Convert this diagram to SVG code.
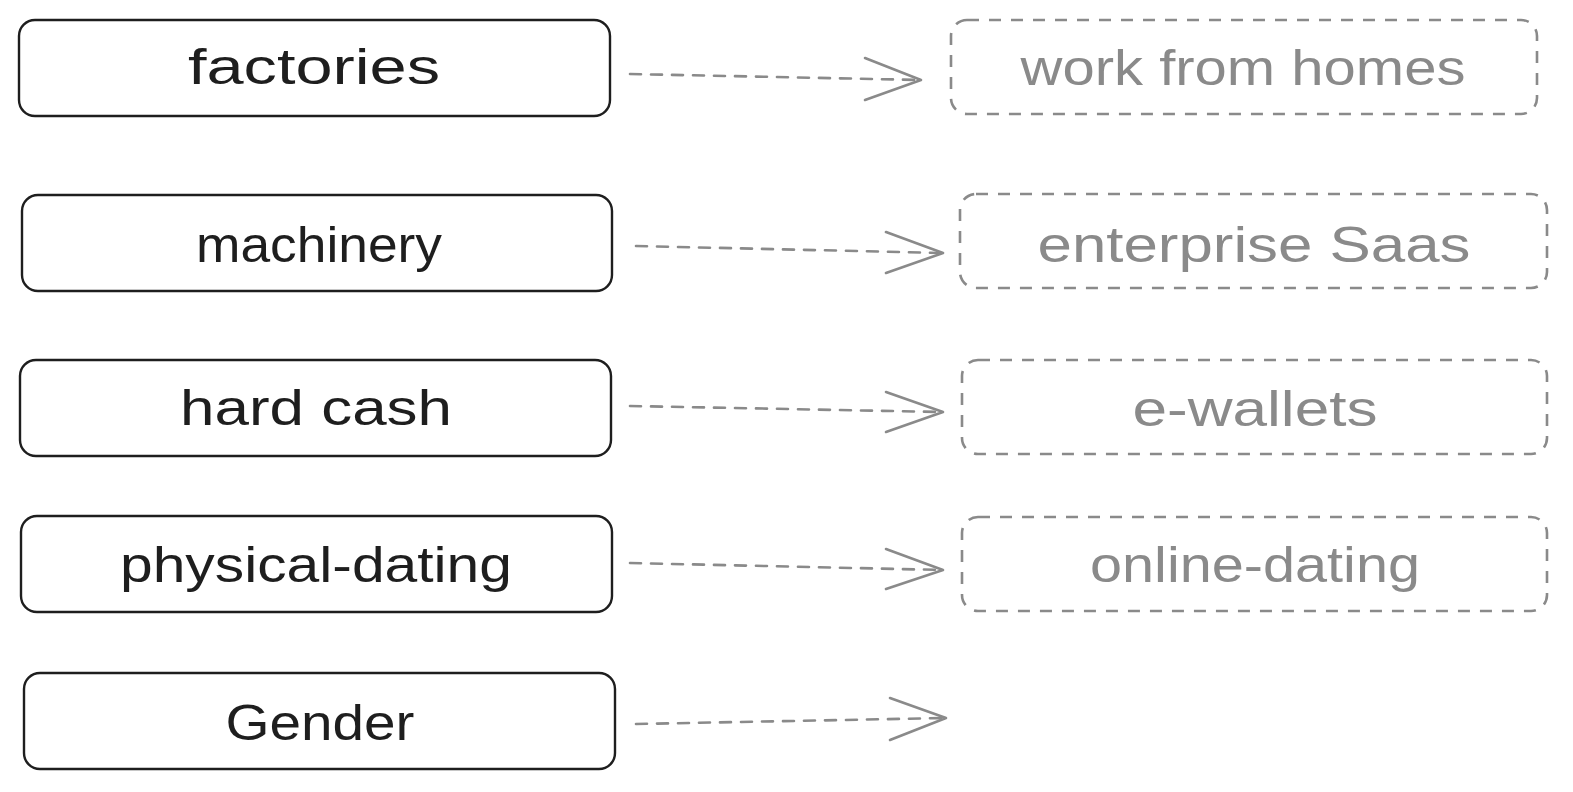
<svg xmlns="http://www.w3.org/2000/svg" width="1573" height="792" viewBox="0 0 1573 792">
<style>
.box{fill:none;stroke:#1e1e1e;stroke-width:2.4}
.dbox{fill:none;stroke:#8a8a8a;stroke-width:2.6;stroke-dasharray:12 10}
.t{font-family:"Liberation Sans","DejaVu Sans",sans-serif;font-size:50px;text-anchor:middle;fill:#1e1e1e}
.g{fill:#8a8a8a}
.arr{fill:none;stroke:#8a8a8a;stroke-width:2.6;stroke-dasharray:11 10;stroke-linecap:round}
.head{fill:none;stroke:#8a8a8a;stroke-width:2.6;stroke-linecap:round;stroke-linejoin:round}
</style>
<rect width="1573" height="792" fill="#ffffff"/>
<g id="n-factories"><rect class="box" x="19" y="20" width="591" height="96" rx="16"/><text class="t" x="314" y="84" textLength="252" lengthAdjust="spacingAndGlyphs">factories</text></g>
<g id="n-machinery"><rect class="box" x="22" y="195" width="590" height="96" rx="16"/><text class="t" x="319" y="262" textLength="246" lengthAdjust="spacingAndGlyphs">machinery</text></g>
<g id="n-hardcash"><rect class="box" x="20" y="360" width="591" height="96" rx="16"/><text class="t" x="316" y="425" textLength="272" lengthAdjust="spacingAndGlyphs">hard cash</text></g>
<g id="n-physical"><rect class="box" x="21" y="516" width="591" height="96" rx="16"/><text class="t" x="316" y="582" textLength="392" lengthAdjust="spacingAndGlyphs">physical-dating</text></g>
<g id="n-gender"><rect class="box" x="24" y="673" width="591" height="96" rx="16"/><text class="t" x="320" y="740" textLength="189" lengthAdjust="spacingAndGlyphs">Gender</text></g>
<g id="n-work"><rect class="dbox" x="951" y="20" width="586" height="94" rx="16"/><text class="t g" x="1243" y="85" textLength="445" lengthAdjust="spacingAndGlyphs">work from homes</text></g>
<g id="n-saas"><rect class="dbox" x="960" y="194" width="587" height="94" rx="16"/><text class="t g" x="1254" y="262" textLength="433" lengthAdjust="spacingAndGlyphs">enterprise Saas</text></g>
<g id="n-ewallets"><rect class="dbox" x="962" y="360" width="585" height="94" rx="16"/><text class="t g" x="1255" y="426" textLength="245" lengthAdjust="spacingAndGlyphs">e-wallets</text></g>
<g id="n-online"><rect class="dbox" x="962" y="517" width="585" height="94" rx="16"/><text class="t g" x="1255" y="582" textLength="330" lengthAdjust="spacingAndGlyphs">online-dating</text></g>
<g id="connectors">
<path class="arr" d="M630 74 L921 80"/><path class="head" d="M865 58 L921 80 L865 100"/>
<path class="arr" d="M636 246 L943 253"/><path class="head" d="M886 232 L943 253 L886 273"/>
<path class="arr" d="M630 406 L943 412"/><path class="head" d="M886 392 L943 412 L886 432"/>
<path class="arr" d="M630 563 L943 570"/><path class="head" d="M886 549 L943 570 L886 589"/>
<path class="arr" d="M636 724 L946 718"/><path class="head" d="M890 698 L946 718 L890 740"/>
</g>
</svg>
